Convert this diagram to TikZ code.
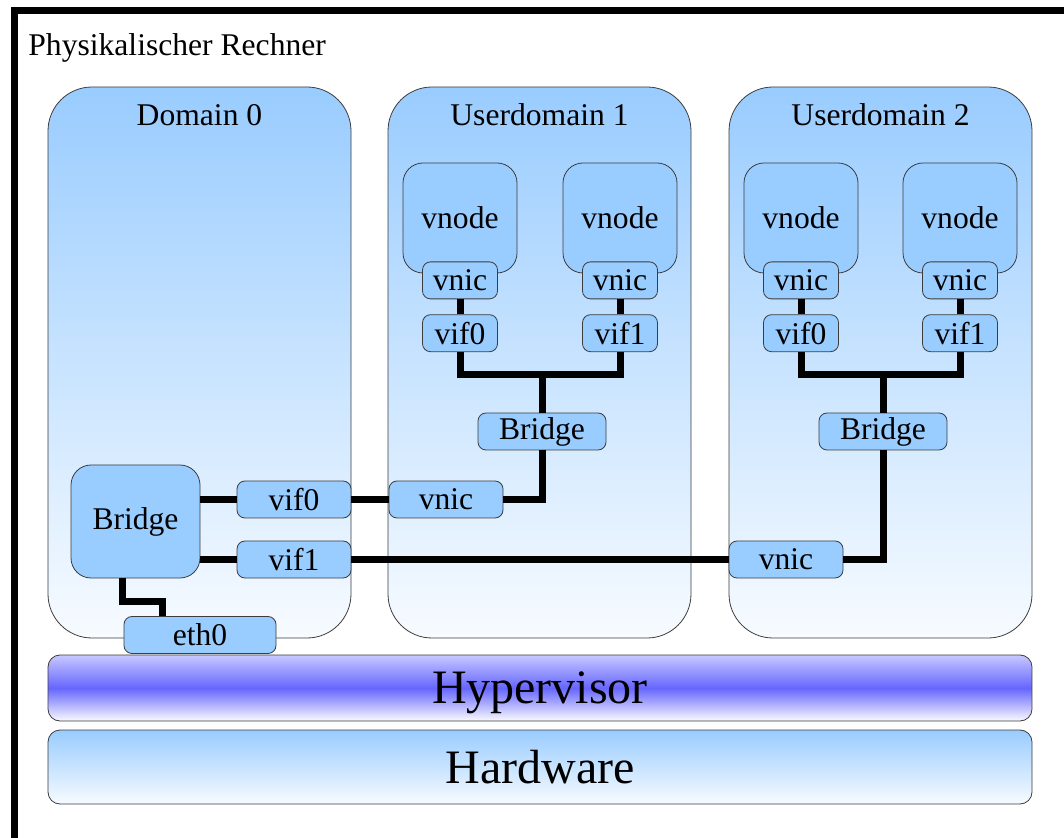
\documentclass[tikz,border=0pt]{standalone}
\usepackage{fontspec}
\setmainfont{Liberation Serif}
\usetikzlibrary{positioning}

\definecolor{boxblue}{RGB}{153,204,255}
\definecolor{paleblue}{RGB}{247,251,255}
\definecolor{hvblue}{RGB}{102,102,255}
\definecolor{hvtop}{RGB}{200,200,255}
\definecolor{hvbot}{RGB}{250,250,255}
\definecolor{rim}{RGB}{60,60,60}

\tikzset{
  dombox/.style={draw=rim, rounded corners=22pt, top color=boxblue, bottom color=paleblue,
    minimum width=151.5pt, minimum height=275.5pt, inner sep=0pt},
  vnodebox/.style={draw=rim, rounded corners=10pt, fill=boxblue, minimum width=57pt, minimum height=55pt},
  portbox/.style={draw=rim, rounded corners=4pt, fill=boxblue, minimum width=37.5pt,
    minimum height=18.5pt, inner sep=0pt},
  wideport/.style={portbox, minimum width=57pt},
  layerbox/.style={draw=rim, rounded corners=6pt, minimum width=492pt, text depth=0pt,
    font=\fontsize{24}{28}\selectfont},
  link/.style={line width=3.5pt},
}

\begin{document}
\begin{tikzpicture}[x=0.5pt, y=-0.5pt, font=\fontsize{15.8}{18}\selectfont]
  \useasboundingbox (0,0) rectangle (1064,838);
  \clip (0,0) rectangle (1064,838);

  % frame of the machine
  \draw[line width=3.5pt] (14,11) rectangle (1110,880);
  \node[anchor=base west, inner sep=0pt] (host) at (28,56) {Physikalischer Rechner};

  % domains
  \node[dombox] (dom0) at (199.5,362.5) {};
  \node[dombox] (ud1) at (539.5,362.5) {};
  \node[dombox] (ud2) at (880.5,362.5) {};
  \node (dom0lbl) at (199.5,115) {Domain 0};
  \node (ud1lbl) at (539.5,115) {Userdomain 1};
  \node (ud2lbl) at (880.5,115) {Userdomain 2};

  % Userdomain 1
  \node[vnodebox] (vnodeA) at (460,218) {vnode};
  \node[vnodebox] (vnodeB) at (620,218) {vnode};
  \node[portbox] (vnicA) at ([yshift=-3.5pt]vnodeA.south) {vnic};
  \node[portbox] (vnicB) at ([yshift=-3.5pt]vnodeB.south) {vnic};
  \node[portbox, below=7.5pt of vnicA] (vifA) {vif0};
  \node[portbox, below=7.5pt of vnicB] (vifB) {vif1};
  \node[portbox, minimum width=64pt] (brA) at (542,431.5) {Bridge};
  \node[wideport] (vnicA3) at (446,499.5) {vnic};
  \coordinate (jA) at (542,375);

  % Userdomain 2
  \node[vnodebox] (vnodeC) at (801,218) {vnode};
  \node[vnodebox] (vnodeD) at (960,218) {vnode};
  \node[portbox] (vnicC) at ([yshift=-3.5pt]vnodeC.south) {vnic};
  \node[portbox] (vnicD) at ([yshift=-3.5pt]vnodeD.south) {vnic};
  \node[portbox, below=7.5pt of vnicC] (vifC) {vif0};
  \node[portbox, below=7.5pt of vnicD] (vifD) {vif1};
  \node[portbox, minimum width=64pt] (brB) at (883,431.5) {Bridge};
  \node[wideport] (vnicB3) at (786,559.5) {vnic};
  \coordinate (jB) at (883,375);

  % Domain 0
  \node[vnodebox, minimum width=64.5pt, minimum height=56.5pt] (br0) at (135.5,521.5) {Bridge};
  \node[wideport] (vif00) at (294,499.5) {vif0};
  \node[wideport] (vif01) at (294,559.5) {vif1};
  \node[portbox, minimum width=76pt] (eth0) at (200,635) {eth0};

  % hypervisor and hardware
  \node[layerbox, top color=hvtop, bottom color=hvbot, middle color=hvblue, minimum height=33pt]
    (hyp) at (540,688) {Hypervisor};
  \node[layerbox, top color=boxblue, bottom color=paleblue, minimum height=37pt]
    (hw) at (540,767) {Hardware};

  % links
  \draw[link] (vnicA) -- (vifA);
  \draw[link] (vnicB) -- (vifB);
  \draw[link] (vifA.south) |- (jA) -| (vifB.south);
  \draw[link] (jA) -- (brA.north);
  \draw[link] (brA.south) |- (vnicA3.east);

  \draw[link] (vnicC) -- (vifC);
  \draw[link] (vnicD) -- (vifD);
  \draw[link] (vifC.south) |- (jB) -| (vifD.south);
  \draw[link] (jB) -- (brB.north);
  \draw[link] (brB.south) |- (vnicB3.east);

  \draw[link] (br0.east |- vif00) -- (vif00.west);
  \draw[link] (br0.east |- vif01) -- (vif01.west);
  \draw[link] (vif00.east) -- (vnicA3.west);
  \draw[link] (vif01.east) -- (vnicB3.west);
  \draw[link] ([xshift=-6.5pt]br0.south) |- ([xshift=-19pt,yshift=7.5pt]eth0.north)
    -- ([xshift=-19pt]eth0.north);
\end{tikzpicture}
\end{document}
